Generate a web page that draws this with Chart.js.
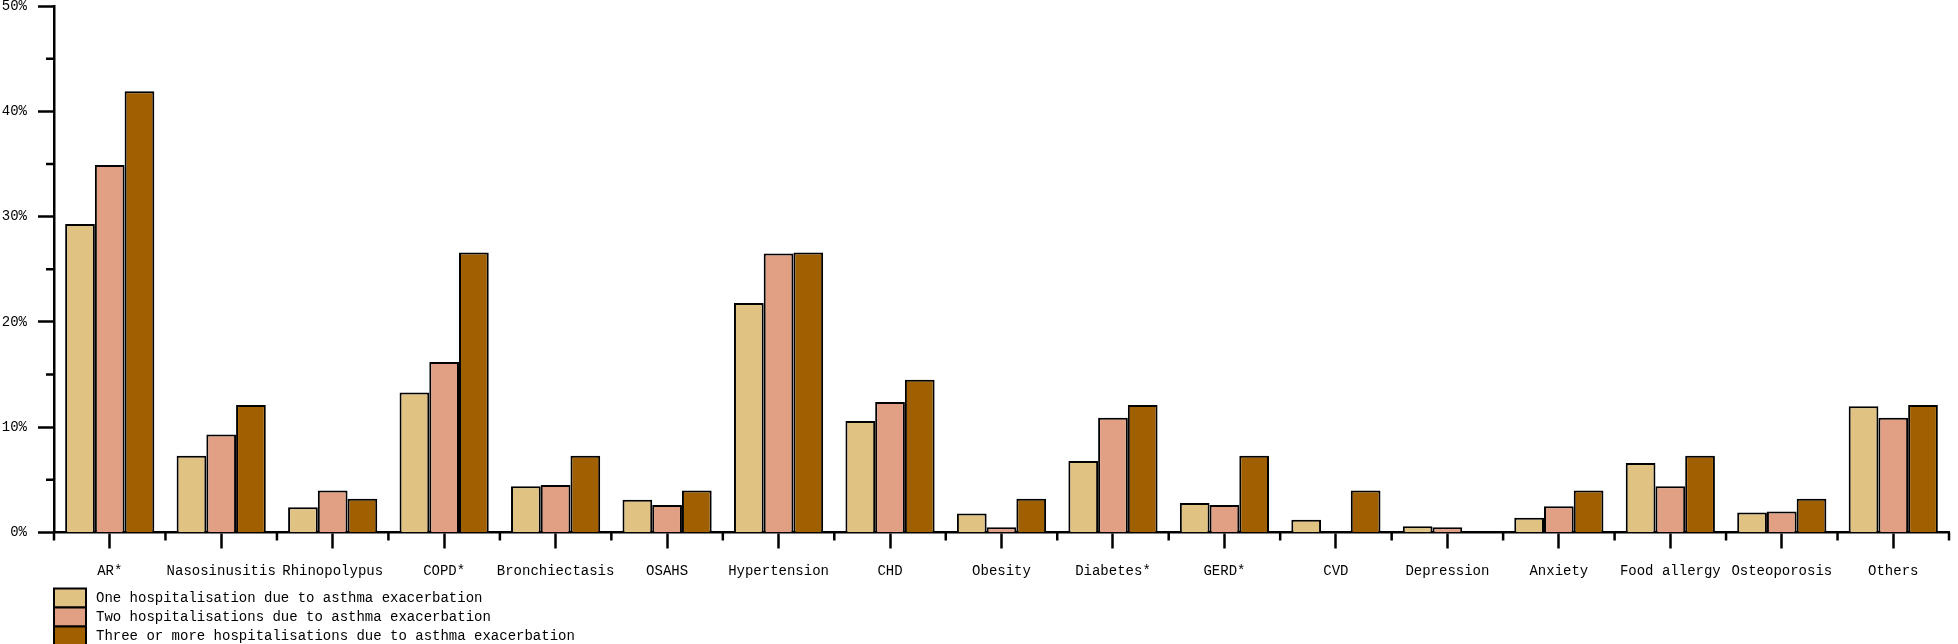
<!DOCTYPE html>
<html>
<head>
    <title>Comorbidities by hospitalisation count</title>
    <script src="https://cdn.jsdelivr.net/npm/chart.js"></script>
    <style>
        html, body { margin: 0; padding: 0; background: #fff; }
        #wrap { width: 1958px; height: 644px; }
    </style>
</head>
<body>
    <div id="wrap"><canvas id="comorbChart"></canvas></div>
    <script>
        const categories = ['AR*', 'Nasosinusitis', 'Rhinopolypus', 'COPD*', 'Bronchiectasis', 'OSAHS',
            'Hypertension', 'CHD', 'Obesity', 'Diabetes*', 'GERD*', 'CVD', 'Depression', 'Anxiety',
            'Food allergy', 'Osteoporosis', 'Others'];
        const oneHosp = [29.3, 7.3, 2.4, 13.3, 4.4, 3.1, 21.8, 10.6, 1.8, 6.8, 2.8, 1.2, 0.6, 1.4, 6.6, 1.9, 12.0];
        const twoHosp = [34.9, 9.3, 4.0, 16.2, 4.5, 2.6, 26.5, 12.4, 0.5, 10.9, 2.6, 0, 0.5, 2.5, 4.4, 2.0, 10.9];
        const threeHosp = [41.9, 12.1, 3.2, 26.6, 7.3, 4.0, 26.6, 14.5, 3.2, 12.1, 7.3, 4.0, 0, 4.0, 7.3, 3.2, 12.1];
        const seriesLabels = [
            'One hospitalisation due to asthma exacerbation',
            'Two hospitalisations due to asthma exacerbation',
            'Three or more hospitalisations due to asthma exacerbation'
        ];
        const seriesColors = ['#E0C282', '#E1A083', '#A06000'];
        const yMax = 50;
        const yStep = 10;

        const FONT = '14px "Liberation Mono", monospace';

        // minor ticks + the stacked legend under the axis
        const extras = {
            id: 'extras',
            afterDraw(chart) {
                const ctx = chart.ctx;
                const x = chart.scales.x, y = chart.scales.y;
                ctx.save();
                ctx.strokeStyle = '#000';
                ctx.lineWidth = 2.5;
                ctx.beginPath();
                for (let v = yStep / 2; v < yMax; v += yStep) {
                    const py = y.getPixelForValue(v);
                    ctx.moveTo(x.left - 8, py);
                    ctx.lineTo(x.left, py);
                }
                for (let i = 0; i <= categories.length; i++) {
                    const px = x.getPixelForValue(i - 0.5);
                    ctx.moveTo(px, y.bottom);
                    ctx.lineTo(px, y.bottom + 8);
                }
                ctx.stroke();

                const boxW = 32, boxH = 19;
                const top = y.bottom + 56;
                ctx.font = FONT;
                ctx.textBaseline = 'middle';
                chart.data.datasets.forEach((ds, i) => {
                    const by = top + i * boxH;
                    ctx.fillStyle = ds.backgroundColor;
                    ctx.fillRect(x.left, by, boxW, boxH);
                    ctx.lineWidth = 2;
                    ctx.strokeRect(x.left, by, boxW, boxH);
                    ctx.fillStyle = '#000';
                    ctx.fillText(ds.label, x.left + boxW + 10, by + boxH / 2);
                });
                ctx.restore();
            }
        };

        const ctx = document.getElementById('comorbChart').getContext('2d');
        new Chart(ctx, {
            type: 'bar',
            data: {
                labels: categories,
                datasets: [oneHosp, twoHosp, threeHosp].map((vals, i) => ({
                    label: seriesLabels[i],
                    data: vals,
                    backgroundColor: seriesColors[i],
                    borderColor: '#000',
                    borderWidth: c => (c.raw === 0 ? 0 : 2),
                    barPercentage: 1,
                    categoryPercentage: 0.8
                }))
            },
            options: {
                responsive: true,
                maintainAspectRatio: false,
                animation: false,
                layout: { padding: { top: 6, right: 9, bottom: 0, left: 0 } },
                plugins: {
                    legend: { display: false },
                    tooltip: { enabled: false }
                },
                scales: {
                    x: {
                        grid: {
                            display: true,
                            drawOnChartArea: false,
                            offset: false,
                            tickLength: 16,
                            tickWidth: 2.5,
                            tickColor: '#000'
                        },
                        border: { display: true, color: '#000', width: 2.5 },
                        ticks: {
                            color: '#000',
                            font: { family: '"Liberation Mono", monospace', size: 14 },
                            padding: 14,
                            maxRotation: 0,
                            autoSkip: false
                        },
                        afterFit(scale) { scale.height = 111.5; }
                    },
                    y: {
                        min: 0,
                        max: yMax,
                        grid: {
                            display: true,
                            drawOnChartArea: false,
                            tickLength: 16,
                            tickWidth: 2.5,
                            tickColor: '#000'
                        },
                        border: { display: true, color: '#000', width: 2.5 },
                        ticks: {
                            stepSize: yStep,
                            color: '#000',
                            font: { family: '"Liberation Mono", monospace', size: 14, lineHeight: 1 },
                            padding: 11,
                            callback: v => v + '%'
                        },
                        afterFit(scale) {
                            scale.width = 54;
                            scale.paddingTop = 0;
                            scale.paddingBottom = 0;
                        }
                    }
                }
            },
            plugins: [extras]
        });
    </script>
</body>
</html>
